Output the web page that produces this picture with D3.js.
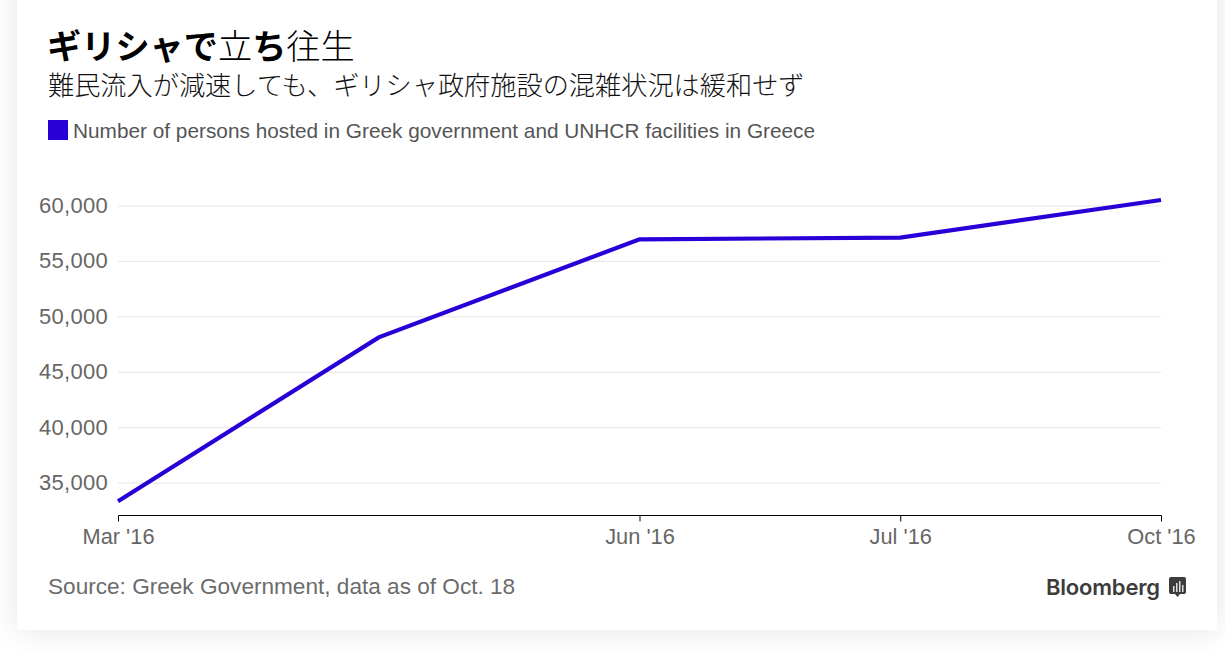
<!DOCTYPE html>
<html>
<head>
<meta charset="utf-8">
<script src="https://d3js.org/d3.v7.min.js"></script>
<style>
  html, body { margin: 0; padding: 0; background: #fff; overflow: hidden; }
  #card { position: absolute; left: 17px; top: -20px; width: 1200px; height: 650px; background: #fff; box-shadow: 0 0 30px rgba(0,0,0,0.11); }
  svg { position: absolute; left: 0; top: 0; }
  text { font-family: "Liberation Sans", sans-serif; }
  .cjk { font-family: "Noto Sans CJK JP", sans-serif; }
  .grid line { stroke: #e6e6e6; }
  .grid path { display: none; }
  .y-axis text { fill: #666; font-size: 22px; letter-spacing: 0.3px; }
  .x-axis text { fill: #666; font-size: 21.8px; }
</style>
</head>
<body>
<div id="card"></div>
<svg width="1225" height="650"></svg>
<script>
const months = ['Mar \'16', 'May \'16', 'Jun \'16', 'Jul \'16', 'Oct \'16']
const monthLabels = ['Mar \'16', '', 'Jun \'16', 'Jul \'16', 'Oct \'16']
const persons = [33300, 48100, 56950, 57100, 60500]
const yTicks = [35000, 40000, 45000, 50000, 55000, 60000]

const titleParts = [['ギリシャで', 700], ['立', 300], ['ち', 700], ['往生', 300]]
const subtitle = '難民流入が減速しても、ギリシャ政府施設の混雑状況は緩和せず'
const legendLabel = 'Number of persons hosted in Greek government and UNHCR facilities in Greece'
const source = 'Source: Greek Government, data as of Oct. 18'

const svg = d3.select('svg')

const x = d3.scalePoint().domain(months).range([118, 1161])
const y = d3.scaleLinear().domain([35000, 60000]).range([482.5, 205.5])

// gridlines
svg.append('g')
    .attr('class', 'grid')
    .attr('transform', 'translate(118, 0)')
    .call(d3.axisRight(y).tickValues(yTicks).tickSize(1043).tickFormat(''))

// y labels, the axis line itself is hidden
svg.append('g')
    .attr('class', 'y-axis')
    .attr('transform', 'translate(118, 0)')
    .call(d3.axisLeft(y).tickValues(yTicks).tickSize(0).tickPadding(10).tickFormat(d3.format(',')))
    .call(g => g.select('.domain').remove())

let xAxis = d3.axisBottom(x)
    .tickSize(6)
    .tickSizeOuter(0)
    .tickPadding(7)
    .tickValues(months.filter((d, i) => monthLabels[i] !== ''))

svg.append('g')
    .attr('class', 'x-axis')
    .attr('transform', 'translate(0, 515.5)')
    .call(xAxis)
    .call(g => g.select('.domain').attr('stroke', '#000').attr('d', 'M118.5,0H1161.5'))
    .call(g => g.selectAll('.tick line').attr('stroke', '#000'))

let line = d3.line()
    .x((d, i) => x(months[i]))
    .y(d => y(d))

svg.append('path')
    .datum(persons)
    .attr('fill', 'none')
    .attr('stroke', '#2800d7')
    .attr('stroke-width', 4.2)
    .attr('d', line)

// title block
let title = svg.append('text')
    .attr('class', 'cjk')
    .attr('x', 47)
    .attr('y', 59)
    .attr('font-size', 34.2)
    .attr('fill', '#000')

titleParts.forEach(p => {
  title.append('tspan').attr('font-weight', p[1]).text(p[0])
})

svg.append('text')
    .attr('class', 'cjk')
    .attr('x', 48)
    .attr('y', 95)
    .attr('font-size', 26.2)
    .attr('font-weight', 300)
    .attr('fill', '#111')
    .text(subtitle)

svg.append('rect')
    .attr('x', 48)
    .attr('y', 120)
    .attr('width', 20)
    .attr('height', 20)
    .attr('fill', '#2800d7')

svg.append('text')
    .attr('x', 73)
    .attr('y', 138)
    .attr('font-size', 20.8)
    .attr('fill', '#555')
    .text(legendLabel)

svg.append('text')
    .attr('x', 48)
    .attr('y', 594)
    .attr('font-size', 22.6)
    .attr('fill', '#6b6b6b')
    .text(source)

// logo
svg.append('text')
    .attr('x', 1046)
    .attr('y', 595)
    .style('font-family', 'Inter, sans-serif')
    .attr('font-size', 22)
    .attr('font-weight', 600)
    .attr('textLength', 114)
    .attr('fill', '#3c3c3c')
    .text('Bloomberg')

let logo = svg.append('g').attr('transform', 'translate(1169, 577)')
logo.append('path')
    .attr('d', 'M2,0H15a2,2 0 0 1 2,2V15a2,2 0 0 1 -2,2H11L8.5,20L6,17H2a2,2 0 0 1 -2,-2V2a2,2 0 0 1 2,-2Z')
    .attr('fill', '#3c3c3c')
logo.selectAll('rect')
    .data([[4, 9, 6], [7, 6, 9], [10, 4, 11], [13, 8, 7]])
    .join('rect')
    .attr('x', d => d[0])
    .attr('y', d => d[1])
    .attr('width', 1.5)
    .attr('height', d => d[2])
    .attr('fill', '#ddd')
</script>
</body>
</html>
